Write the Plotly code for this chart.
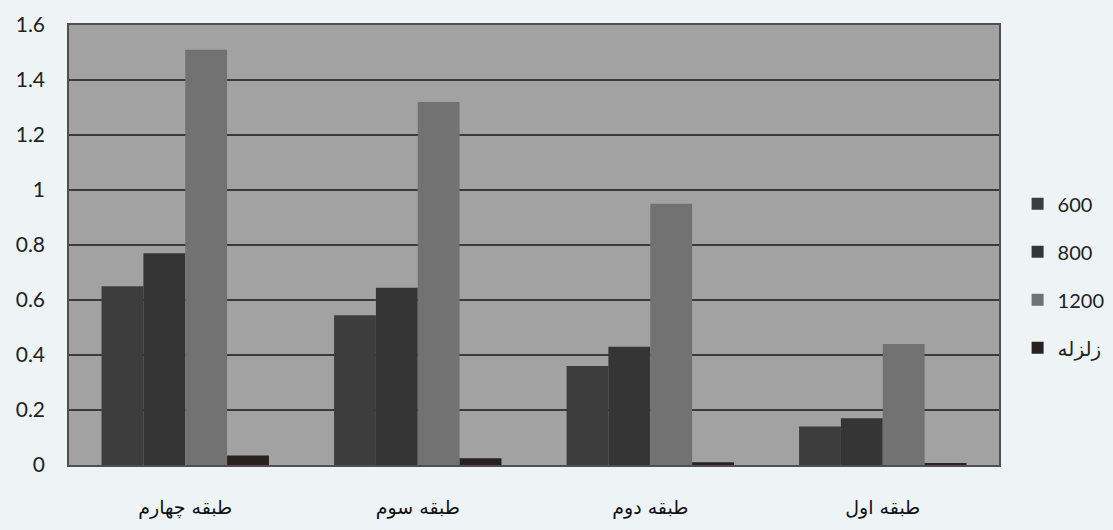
import plotly.graph_objects as go

categories = ["طبقه چهارم", "طبقه سوم", "طبقه دوم", "طبقه اول"]
series_names = ["600", "800", "1200", "زلزله"]
v600 = [0.65, 0.545, 0.36, 0.14]
v800 = [0.77, 0.645, 0.43, 0.17]
v1200 = [1.51, 1.32, 0.95, 0.44]
vquake = [0.035, 0.025, 0.01, 0.004]
y_ticks = [0, 0.2, 0.4, 0.6, 0.8, 1, 1.2, 1.4, 1.6]

values = [v600, v800, v1200, vquake]
bar_colors = ["#3d3d3d", "#353535", "#727272", "#2a2020"]

fig = go.Figure()
for i, (name, vals, col) in enumerate(zip(series_names, values, bar_colors)):
    fig.add_trace(go.Bar(
        x=categories, y=vals, name=name,
        marker=dict(color=col, line=dict(width=0)),
        legendgroup=f"g{i}",
    ))

fig.update_layout(
    width=1113, height=530,
    margin=dict(l=69, r=114, t=25, b=65, autoexpand=False),
    paper_bgcolor="#eef4f6",
    plot_bgcolor="#a2a2a2",
    barmode="group",
    bargap=0.28,
    bargroupgap=0,
    font=dict(family="Lato, DejaVu Sans, sans-serif", color="#222222"),
    legend=dict(
        x=1.02, y=0.43, xanchor="left", yanchor="middle",
        font=dict(size=20, color="#222222"),
        traceorder="grouped", tracegroupgap=19,
        bgcolor="rgba(0,0,0,0)", itemwidth=30,
    ),
    showlegend=True,
)
fig.update_yaxes(
    range=[0, 1.6], tickvals=y_ticks,
    ticktext=[("%g" % t) for t in y_ticks],
    showgrid=True, gridcolor="#3a3a3a", gridwidth=1.6,
    zeroline=False, showline=True, linecolor="#505050", linewidth=1.5, mirror=True,
    ticks="", ticklabelstandoff=18,
    tickfont=dict(size=21, color="#222222", family="Lato, sans-serif"),
)
fig.update_xaxes(
    showgrid=False, showline=True, linecolor="#505050", linewidth=1.5, mirror=True,
    ticks="", ticklabelstandoff=24,
    tickfont=dict(size=19, color="#111111", family="DejaVu Sans, sans-serif"),
)

fig.write_html("out.html")
